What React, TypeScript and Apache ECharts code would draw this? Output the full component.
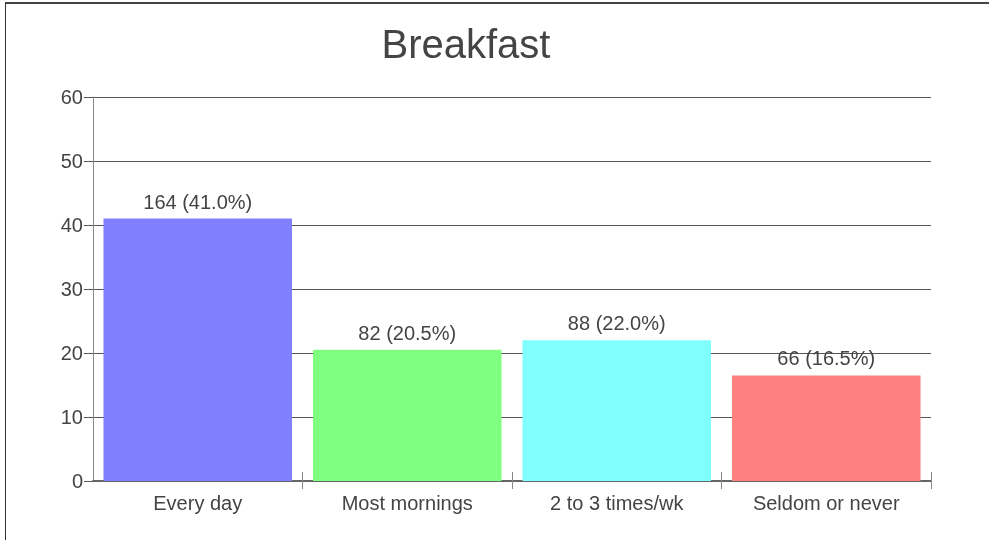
import React, { useEffect, useRef } from "react";
import * as echarts from "echarts";

const categories = ["Every day", "Most mornings", "2 to 3 times/wk", "Seldom or never"];
const percentages = [41.0, 20.5, 22.0, 16.5];
const counts = [164, 82, 88, 66];
const colors = ["#8080ff", "#80ff80", "#80ffff", "#ff8080"];
const titleText = "Breakfast";

const FONT = "'Liberation Sans', Arial, Helvetica, sans-serif";

export default function App() {
  const ref = useRef<HTMLDivElement>(null);
  useEffect(() => {
    if (!ref.current) return;
    const chart = echarts.init(ref.current, undefined, { renderer: "svg" });
    const tickFilter = (i: number) => i !== 0;
    chart.setOption({
      animation: false,
      backgroundColor: "transparent",
      textStyle: { fontFamily: FONT },
      graphic: [
        {
          type: "text",
          x: 466,
          y: 44,
          style: {
            text: titleText,
            fontSize: 40,
            fontFamily: FONT,
            fill: "#444",
            align: "center",
            verticalAlign: "middle",
          },
        },
      ],
      grid: { left: 93, top: 97, right: 58, bottom: 60, containLabel: false },
      xAxis: [
        {
          type: "category",
          data: categories,
          position: "bottom",
          axisLine: { show: true, onZero: false, lineStyle: { color: "#666", width: 2 } },
          axisTick: {
            show: true,
            length: 8,
            inside: false,
            interval: tickFilter,
            lineStyle: { color: "#888", width: 1 },
          },
          axisLabel: { color: "#444", fontSize: 20, fontFamily: FONT, margin: 12, interval: 0 },
          splitLine: { show: false },
        },
        {
          type: "category",
          data: categories,
          position: "top",
          axisLine: { show: false, onZero: true },
          axisTick: {
            show: true,
            length: 9,
            inside: false,
            interval: tickFilter,
            lineStyle: { color: "#888", width: 1 },
          },
          axisLabel: { show: false },
          splitLine: { show: false },
        },
      ],
      yAxis: {
        type: "value",
        min: 0,
        max: 60,
        interval: 10,
        axisLine: { show: true, lineStyle: { color: "#888", width: 1 } },
        axisTick: { show: true, length: 9, lineStyle: { color: "#555", width: 1 } },
        axisLabel: { color: "#444", fontSize: 20, fontFamily: FONT, margin: 10 },
        splitLine: { show: true, lineStyle: { color: "#555", width: 1 } },
      },
      series: [
        {
          type: "bar",
          xAxisIndex: 0,
          data: percentages.map((v, i) => ({ value: v, itemStyle: { color: colors[i] } })),
          barCategoryGap: "10%",
          label: {
            show: true,
            position: "top",
            distance: 7,
            fontSize: 20,
            fontFamily: FONT,
            color: "#444",
            formatter: (p: any) => `${counts[p.dataIndex]} (${percentages[p.dataIndex].toFixed(1)}%)`,
          },
        },
      ],
    });
    return () => chart.dispose();
  }, []);

  return (
    <div>
      <div
        style={{
          position: "fixed",
          left: 5,
          top: 2,
          width: 1200,
          height: 538,
          borderLeft: "1px solid #333",
          borderTop: "2px solid #444",
          boxSizing: "border-box",
        }}
      />
      <div
        ref={ref}
        style={{ position: "fixed", left: 0, top: 0, width: 989, height: 541 }}
      />
    </div>
  );
}
